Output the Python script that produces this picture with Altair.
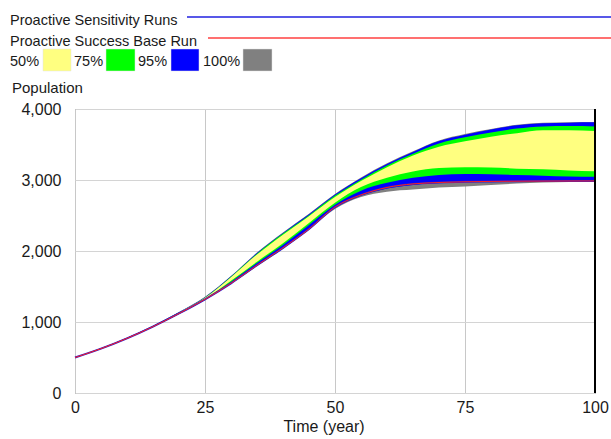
import altair as alt
import pandas as pd

times = [0, 5, 10, 15, 20, 25, 30, 35, 40, 45, 50, 55, 60, 65, 70, 75, 80, 85, 90, 95, 100]
base_run = [500, 625, 770, 935, 1120, 1320, 1545, 1800, 2045, 2310, 2620, 2790, 2895, 2945, 2965, 2975, 2980, 2983, 2985, 2986, 2987]
gray_lo = [500, 623, 767, 930, 1112, 1310, 1538, 1785, 2030, 2300, 2590, 2760, 2835, 2865, 2895, 2910, 2930, 2950, 2965, 2972, 2975]
blue_lo = [500, 624, 768, 932, 1115, 1313, 1545, 1795, 2042, 2315, 2605, 2780, 2880, 2930, 2965, 2985, 2985, 2982, 2980, 2980, 2980]
green_lo = [500, 625, 770, 935, 1120, 1318, 1565, 1830, 2085, 2365, 2650, 2850, 2960, 3030, 3070, 3085, 3080, 3070, 3060, 3050, 3045]
yellow_lo = [500, 626, 771, 937, 1123, 1322, 1580, 1850, 2110, 2395, 2680, 2900, 3030, 3120, 3170, 3180, 3175, 3160, 3150, 3135, 3125]
yellow_hi = [500, 628, 775, 943, 1132, 1340, 1630, 1950, 2230, 2490, 2760, 2985, 3180, 3345, 3470, 3545, 3610, 3660, 3700, 3700, 3690]
green_hi = [500, 629, 776, 945, 1135, 1345, 1638, 1962, 2245, 2505, 2780, 3005, 3205, 3370, 3515, 3602, 3670, 3725, 3755, 3760, 3755]
blue_hi = [500, 630, 778, 947, 1138, 1350, 1643, 1972, 2255, 2518, 2795, 3025, 3225, 3395, 3548, 3638, 3710, 3770, 3800, 3808, 3812]
gray_hi = [500, 631, 779, 948, 1140, 1355, 1648, 1978, 2262, 2525, 2803, 3035, 3235, 3405, 3558, 3648, 3718, 3778, 3807, 3814, 3818]

x_ticks = [0, 25, 50, 75, 100]
y_ticks = [0, 1000, 2000, 3000, 4000]

df = pd.DataFrame({
    "t": times, "base": base_run,
    "gray_lo": gray_lo, "gray_hi": gray_hi,
    "blue_lo": blue_lo, "blue_hi": blue_hi,
    "green_lo": green_lo, "green_hi": green_hi,
    "yellow_lo": yellow_lo, "yellow_hi": yellow_hi,
})

FONT = "Liberation Sans"
TXT = "#1a1a1a"

xs = alt.Scale(domain=[0, 100], nice=False)
ys = alt.Scale(domain=[0, 4000], nice=False)

xax = alt.Axis(values=x_ticks, title=None, ticks=False, domain=False, labelFontSize=16,
               labelFont=FONT, labelColor=TXT, labelPadding=6, gridColor="#c8c8c8",
               labelFlush=False)
yax = alt.Axis(values=y_ticks, title=None, ticks=False, domain=False, labelFontSize=16,
               labelFont=FONT, labelColor=TXT, labelPadding=14, format=",.0f",
               gridColor="#d4d4d4")

base = alt.Chart(df)
X = alt.X("t:Q", scale=xs, axis=xax)


def band(lo, hi, color):
    return base.mark_area(color=color, opacity=1, interpolate="monotone").encode(
        x=X,
        y=alt.Y(f"{lo}:Q", scale=ys, axis=yax),
        y2=f"{hi}:Q",
    )


layers = [
    band("gray_lo", "gray_hi", "#808080"),
    band("blue_lo", "blue_hi", "#0000ff"),
    band("green_lo", "green_hi", "#00ff00"),
    band("yellow_lo", "yellow_hi", "#ffff80"),
    base.mark_line(color="#2a1ad0", strokeWidth=2, interpolate="monotone").encode(
        x=X, y=alt.Y("base:Q", scale=ys, axis=yax)),
    base.mark_line(color="#ff2020", strokeWidth=1, interpolate="monotone").encode(
        x=X, y=alt.Y("base:Q", scale=ys, axis=yax)),
]

one = pd.DataFrame({"k": [0]})

# right border
layers.append(alt.Chart(one).mark_rule(color="#000000", strokeWidth=2).encode(
    x=alt.value(520), y=alt.value(0), y2=alt.value(284)))


def label(text, x, y, size=14):
    return alt.Chart(one).mark_text(text=text, align="left", baseline="alphabetic",
                                    font=FONT, fontSize=size, color=TXT).encode(
        x=alt.value(x), y=alt.value(y))


def hline(x1, x2, y, color):
    return alt.Chart(one).mark_rule(color=color, strokeWidth=1.5).encode(
        x=alt.value(x1), x2=alt.value(x2), y=alt.value(y))


def swatch(x1, x2, color):
    return alt.Chart(one).mark_rect(color=color, stroke="#e0e0e0", strokeWidth=0.5).encode(
        x=alt.value(x1), x2=alt.value(x2), y=alt.value(-60), y2=alt.value(-38))


layers += [
    label("Proactive Sensitivity Runs", -65, -84, 14.5),
    hline(112, 536, -92, "#2020e0"),
    label("Proactive Success Base Run", -65, -63, 14.5),
    hline(133, 536, -71, "#ff4040"),
    label("50%", -65, -43, 14.5),
    swatch(-32, -4, "#ffff80"),
    label("75%", -1, -43, 14.5),
    swatch(31, 60, "#00ff00"),
    label("95%", 63, -43, 14.5),
    swatch(96, 124, "#0000ff"),
    label("100%", 128, -43, 14.5),
    swatch(168, 197, "#808080"),
    label("Population", -63, -16, 15),
    alt.Chart(one).mark_text(text="Time (year)", align="center", baseline="alphabetic",
                             font=FONT, fontSize=16, color=TXT).encode(
        x=alt.value(249), y=alt.value(323)),
]

chart = alt.layer(*layers).properties(
    width=520, height=284,
    autosize=alt.AutoSizeParams(type="none"),
    padding={"left": 75, "top": 109, "right": 16, "bottom": 46},
).configure_view(stroke="#808080", strokeWidth=1)

chart.save("out.html", embed_options={"renderer": "svg", "actions": False})
